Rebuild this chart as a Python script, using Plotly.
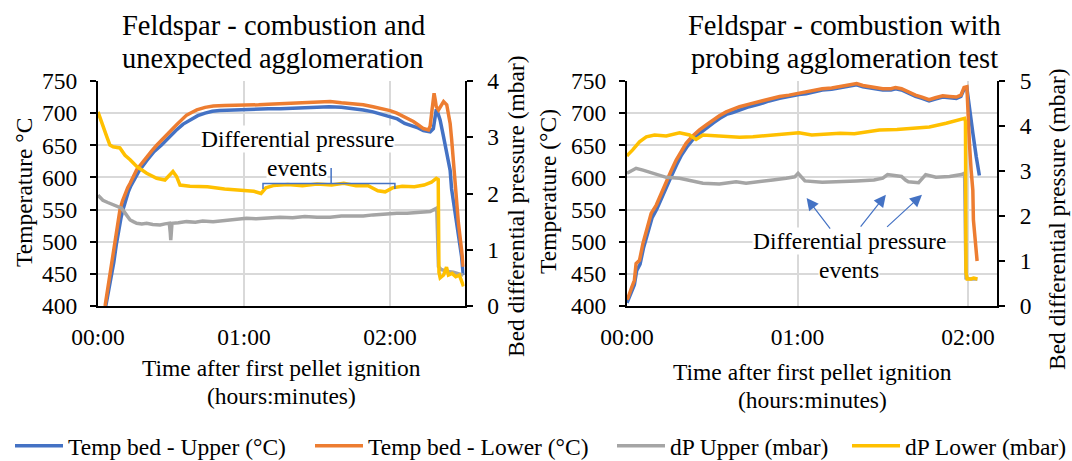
import plotly.graph_objects as go

FONT = "Liberation Serif, Times New Roman, DejaVu Serif, serif"
BLUE = "#4472C4"
ORANGE = "#ED7D31"
GRAY = "#A5A5A5"
GOLD = "#FFC000"
GRID = "#D9D9D9"

W, H = 1072, 461

TICK_VALS = [0, 60, 120]
TICK_TEXT = ["00:00", "01:00", "02:00"]
SERIES_NAMES = ["Temp bed - Upper (°C)", "Temp bed - Lower (°C)", "dP Upper (mbar)", "dP Lower (mbar)"]

# ---------------- Left chart: combustion and unexpected agglomeration (minutes) ----------------
L_up_t = [3.2, 4.5, 5.5, 6.5, 7.5, 8.5, 9.5, 10.5, 11.5, 12.5, 13.5, 15, 17, 20, 23, 26, 29, 32, 35, 38,
          41, 44, 47, 50, 55, 60, 65, 70, 75, 80, 85, 90, 95, 100, 105, 109, 113, 117, 120, 123,
          126, 129.6, 131.5, 133.7, 135.5, 136.5, 137.8, 138.5, 139, 139.5, 140.6, 142, 143.3, 144.7,
          145.3, 146.7, 148.1, 149.4, 150.1]
L_up_T = [400, 425, 445, 468, 495, 518, 538, 553, 566, 578, 587, 598, 611, 626, 640, 650, 662, 673, 683, 690,
          696, 700, 703, 704, 705, 706, 706, 707, 707, 708, 709, 710, 710, 709, 707, 705, 702, 698, 695, 691,
          684, 680, 677, 673, 671, 671, 676, 700, 706, 702, 689, 663, 637, 611,
          582, 549, 513, 477, 448]

L_lo_t = [2.9, 4, 4.9, 6.3, 7.7, 9, 10, 11.1, 12.2, 13.2, 14.5, 15.9, 18, 20, 22, 24.1, 26, 28.2, 30, 32.3,
          34.4, 36.4, 38.5, 40.6, 44, 47.4, 52, 57, 61, 66, 70, 74.8, 80, 85, 90, 95.4, 100, 104, 109, 113,
          117, 120, 122.8, 126, 129.6, 131.5, 133.7, 135.8, 136.5, 137.1, 137.6, 138.1, 138.6, 139, 139.9,
          141, 142, 143.3, 144, 144.7, 145.3, 146, 147.1, 148.1, 149.4, 150.1]
L_lo_T = [400, 428, 451, 482, 518, 549, 563, 575, 584, 591, 602, 612, 622, 632, 641, 650, 658, 666, 673, 682,
          690, 697, 701, 705, 709, 711, 712, 712, 713, 713, 714, 715, 715, 716, 717, 718, 716, 715, 713, 710,
          707, 704, 700, 694, 687, 682, 676, 674, 680, 700, 718, 731, 720, 710, 705,
          713, 718, 713, 700, 684, 660, 627, 580, 529, 487, 461]

L_dpu_t = [0, 1, 2, 4, 6.2, 8, 9.7, 11, 11.8, 13.2, 14.5, 15.9, 18, 20, 22.5, 25.5, 27.5, 29.3, 29.7, 29.9,
           30.2, 30.4, 33, 36.4, 40, 43, 47.3, 51, 55, 58, 61, 65, 70, 74.8, 80, 85, 90, 95.4, 100, 105,
           109, 113, 118, 122.8, 127, 132, 136.5, 139.2, 139.6, 139.9, 141, 143, 146, 148, 150.1]
L_dpu_v = [1.97, 1.93, 1.88, 1.84, 1.80, 1.77, 1.74, 1.66, 1.62, 1.53, 1.50, 1.47, 1.46, 1.47, 1.45, 1.44, 1.46, 1.47, 1.30, 1.17,
           1.35, 1.47, 1.48, 1.50, 1.49, 1.51, 1.50, 1.52, 1.53, 1.55, 1.56, 1.55, 1.57, 1.58, 1.57, 1.59, 1.58, 1.58, 1.60, 1.60,
           1.60, 1.62, 1.64, 1.65, 1.65, 1.67, 1.68, 1.74, 1.00, 0.70, 0.65, 0.62, 0.60, 0.58, 0.55]

L_dpl_t = [0, 1.5, 3.6, 4.9, 6.2, 9, 11.1, 13.2, 15.9, 20, 24.1, 27.5, 29.6, 30.8, 32.3, 33.7, 37.8, 45, 52, 58,
           64, 67, 69, 72, 78, 84, 90, 96, 101, 106, 111, 115, 118, 121, 125, 130, 134, 137, 139, 139.8,
           140.1, 140.6, 142, 143.2, 144, 145.5, 147, 148.5, 149.5, 150.2]
L_dpl_v = [3.45, 3.25, 3.01, 2.86, 2.83, 2.81, 2.68, 2.60, 2.48, 2.36, 2.27, 2.24, 2.33, 2.39, 2.30, 2.15, 2.13, 2.12, 2.08, 2.06,
           2.04, 2.00, 2.10, 2.14, 2.16, 2.14, 2.17, 2.15, 2.18, 2.14, 2.14, 2.05, 2.03, 2.10, 2.13, 2.12, 2.15, 2.20, 2.27, 2.25,
           0.60, 0.50, 0.55, 0.69, 0.55, 0.58, 0.52, 0.55, 0.40, 0.35]

# ---------------- Right chart: combustion with probing agglomeration test (minutes) ----------------
R_up_t = [0, 1.5, 2.6, 3.4, 4.6, 5.8, 7.5, 8.8, 10.5, 12.2, 14, 15.7, 17.5, 19.2, 21, 23.2, 25.7, 28.2, 30.4, 32.7,
          35, 37.2, 39.8, 43, 46.6, 50, 53.7, 57, 60.5, 63, 66, 68.7, 72, 75, 78, 80.8, 83, 86.9, 90, 92.9,
          94.5, 96.6, 99, 101.5, 103.8, 106.3, 108.5, 111.1, 113.5, 115.9, 117.5, 118.6, 119.6, 120.5, 121.7, 122.9, 124]
R_up_T = [405, 420, 433, 455, 465, 490, 516, 537, 551, 569, 585, 603, 620, 635, 647, 659, 669, 678, 685, 692,
          698, 701, 705, 710, 714, 719, 723, 726, 729, 730, 733, 736, 737, 739, 741, 744, 741, 738, 736, 736,
          738, 736, 731, 726, 723, 719, 722, 725, 724, 723, 726, 737, 739, 705, 669, 632, 603]

R_lo_t = [0, 0.3, 1.5, 2.6, 3.2, 4.4, 5.6, 7.3, 8.5, 10.3, 12, 13.8, 15.5, 17.3, 19, 20.8, 23, 25.5, 28, 30.2,
          32.5, 34.9, 37, 39.6, 43, 46.6, 50, 53.7, 57, 60.5, 63, 66, 68.7, 72, 75, 78, 80.8, 83, 86.9, 90,
          92.9, 94.5, 96.6, 99, 101.5, 103.8, 106.3, 108.5, 111.1, 113.5, 115.9, 117.5, 118.6, 119.6, 119.9, 120.5,
          121.1, 121.7, 121.9, 122.6, 123.2]
R_lo_T = [410, 412, 427, 440, 466, 471, 497, 523, 544, 557, 575, 591, 610, 627, 641, 653, 664, 674, 682, 689,
          696, 702, 706, 710, 714, 718, 722, 726, 728, 731, 732, 735, 738, 739, 741, 743, 746, 743, 740, 738,
          738, 740, 738, 733, 728, 725, 721, 724, 727, 726, 725, 728, 740, 741, 705, 653,
          611, 580, 534, 502, 470]

R_dpu_t = [0, 1.5, 3.2, 5.6, 9.1, 13.8, 18.5, 22, 26.7, 32.5, 38.4, 41.9, 46.6, 51.3, 56, 59, 60.2, 61.2, 62.6, 68.7,
           74.7, 80.8, 86.9, 90, 91.7, 94, 96.6, 98, 99, 102.6, 104, 105.1, 108.7, 113.5, 117.7, 118.8, 119.1, 119.3, 121, 123.3]
R_dpu_v = [2.95, 3.00, 3.06, 3.02, 2.95, 2.86, 2.84, 2.79, 2.73, 2.71, 2.76, 2.73, 2.76, 2.80, 2.84, 2.87, 2.95, 2.88, 2.78, 2.75,
           2.76, 2.78, 2.80, 2.84, 2.92, 2.90, 2.88, 2.80, 2.76, 2.74, 2.85, 2.92, 2.86, 2.88, 2.92, 2.95, 1.50, 0.62, 0.60, 0.60]

R_dpl_t = [0, 0.3, 2, 4.4, 6.8, 9.7, 13.8, 18.5, 22, 24.3, 26.7, 31.4, 35, 39.6, 44.3, 51.3, 56, 60.5, 65, 70,
           75, 80, 85, 88.8, 95, 100.6, 106.4, 112.3, 117, 118.8, 119.1, 119.3, 119.7, 121, 122, 123.3]
R_dpl_v = [3.33, 3.36, 3.47, 3.65, 3.76, 3.80, 3.78, 3.85, 3.80, 3.70, 3.80, 3.78, 3.77, 3.75, 3.76, 3.80, 3.82, 3.85, 3.80, 3.82,
           3.84, 3.83, 3.87, 3.91, 3.92, 3.95, 3.98, 4.06, 4.13, 4.17, 4.10, 0.75, 0.60, 0.60, 0.62, 0.60]

fig = go.Figure()

LW = 3.5
legends = ["legend", "legend2", "legend3", "legend4"]
colors = [BLUE, ORANGE, GRAY, GOLD]

left_series = [(L_up_t, L_up_T, "y"), (L_lo_t, L_lo_T, "y"), (L_dpu_t, L_dpu_v, "y2"), (L_dpl_t, L_dpl_v, "y2")]
right_series = [(R_up_t, R_up_T, "y3"), (R_lo_t, R_lo_T, "y3"), (R_dpu_t, R_dpu_v, "y4"), (R_dpl_t, R_dpl_v, "y4")]

for i, (tx, vy, ya) in enumerate(left_series):
    fig.add_trace(go.Scatter(x=tx, y=vy, mode="lines", name=SERIES_NAMES[i], xaxis="x", yaxis=ya,
                             line=dict(color=colors[i], width=LW), legend=legends[i], showlegend=True))
for i, (tx, vy, ya) in enumerate(right_series):
    fig.add_trace(go.Scatter(x=tx, y=vy, mode="lines", name=SERIES_NAMES[i], xaxis="x2", yaxis=ya,
                             line=dict(color=colors[i], width=LW), showlegend=False))

def px(x):
    return x / W

def py(y):
    return 1 - y / H

YDOM = [py(306), py(81)]
tickfont = dict(family=FONT, size=23.5, color="black")

xcommon = dict(tickvals=TICK_VALS, ticktext=TICK_TEXT, showgrid=True, gridcolor=GRID, gridwidth=1.5,
               showline=True, linecolor="black", linewidth=2, ticks="", zeroline=False,
               tickfont=tickfont, ticklabelstandoff=9, automargin=False)
ycommon = dict(showline=True, linecolor="black", linewidth=2, ticks="outside", ticklen=6, tickwidth=2,
               tickcolor="black", zeroline=False, tickfont=tickfont, automargin=False)

fig.update_layout(
    width=W, height=H, margin=dict(l=0, r=0, t=0, b=0, autoexpand=False),
    paper_bgcolor="white", plot_bgcolor="white",
    font=dict(family=FONT, size=23.5, color="black"),
    xaxis=dict(domain=[px(98), px(464.5)], range=[0, 150.6], anchor="y", **xcommon),
    yaxis=dict(domain=YDOM, range=[400, 750], dtick=50, anchor="x", showgrid=True, gridcolor=GRID, gridwidth=1.5,
               ticklabelstandoff=8, **ycommon),
    yaxis2=dict(range=[0, 4], dtick=1, overlaying="y", side="right", anchor="x", showgrid=False,
                ticklabelstandoff=10, **ycommon),
    xaxis2=dict(domain=[px(627), px(997)], range=[0, 130.2], anchor="y3", **xcommon),
    yaxis3=dict(domain=YDOM, range=[400, 750], dtick=50, anchor="x2", showgrid=True, gridcolor=GRID, gridwidth=1.5,
                ticklabelstandoff=8, **ycommon),
    yaxis4=dict(range=[0, 5], dtick=1, overlaying="y3", side="right", anchor="x2", showgrid=False,
                ticklabelstandoff=10, **ycommon),
)

leg_x = [10, 310, 612, 847]
for name, lx in zip(legends, leg_x):
    fig.update_layout(**{name: dict(x=px(lx), y=py(446), xanchor="left", yanchor="middle", orientation="h",
                                    font=dict(family=FONT, size=23.5, color="black"), itemwidth=48,
                                    bgcolor="rgba(0,0,0,0)", borderwidth=0)})

ann = []

def text(x, y, s, size=23.5, angle=0, bg=None, xanchor="center"):
    d = dict(x=px(x), y=py(y), xref="paper", yref="paper", text=s, showarrow=False, textangle=angle,
             font=dict(family=FONT, size=size, color="black"), xanchor=xanchor, yanchor="middle")
    if bg:
        d["bgcolor"] = bg
        d["borderpad"] = 0
    ann.append(d)

# titles
text(273, 25, "Feldspar - combustion and", size=28.5)
text(273, 59, "unexpected agglomeration", size=28.5)
text(844, 25, "Feldspar - combustion with", size=28.5)
text(844, 59, "probing agglomeration test", size=28.5)
# x axis titles
text(281, 368, "Time after first pellet ignition")
text(281, 396, "(hours:minutes)")
text(812, 372, "Time after first pellet ignition")
text(812, 400, "(hours:minutes)")
# y axis titles
text(24, 193, "Temperature °C", angle=-90)
text(516, 206, "Bed differential pressure (mbar)", angle=-90)
text(548, 192, "Temperature (°C)", angle=-90)
text(1057, 219, "Bed differential pressure (mbar)", angle=-90)
# event labels
text(297, 139, "Differential pressure", bg="white")
text(297, 168, "events", bg="white")
text(849, 241, "Differential pressure", bg="white")
text(849, 270, "events", bg="white")

# arrows in right chart (head at event on dP Upper line, tail near label)
arrows = [((63.2, 568), (71.9, 518)), ((91.1, 573), (81.8, 521)), ((103.8, 573), (91.0, 521))]
for (hx, hy), (tx, ty) in arrows:
    ann.append(dict(x=hx, y=hy, xref="x2", yref="y3", ax=tx, ay=ty, axref="x2", ayref="y3", text="",
                    showarrow=True, arrowhead=2, arrowsize=2, arrowwidth=1.2, arrowcolor=BLUE))

fig.update_layout(annotations=ann)

# bracket marking the pressure events in left chart
bx0, bx1, bmid = 67.8, 122.0, 95.8
by, bend, btop = 590.5, 582, 614.6
fig.add_shape(type="path", xref="x", yref="y",
              path=f"M {bx0},{bend} L {bx0},{by} L {bx1},{by} L {bx1},{bend} M {bmid},{by} L {bmid},{btop}",
              line=dict(color=BLUE, width=1.5))

fig.write_html("out.html")
